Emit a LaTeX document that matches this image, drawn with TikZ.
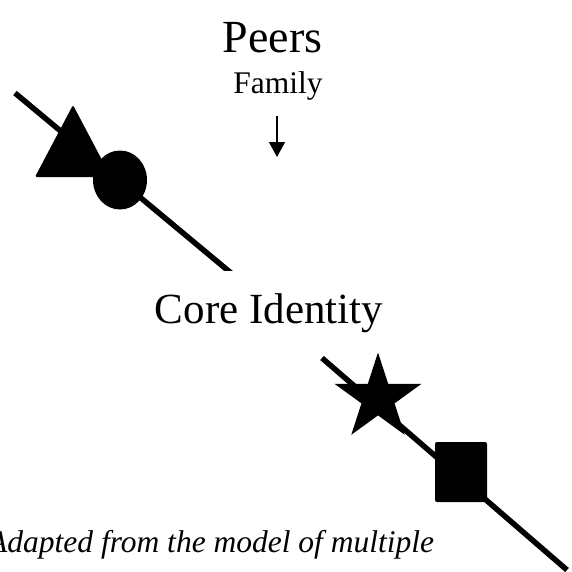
\documentclass[tikz,border=0pt]{standalone}
\usepackage{fontspec}
\setmainfont{Liberation Serif}
\usepackage{tikz}
\usetikzlibrary{arrows.meta}
\usetikzlibrary{shapes.geometric}
\tikzset{%
  myline/.style={line width=5.5pt},
  myarrow/.style={-{Triangle[length=15pt,width=16pt]}, line width=1.5pt},
  mymark/.style={fill=black, inner sep=0pt, outer sep=0pt},
  mytext/.style={anchor=base, inner sep=0pt}
}

\begin{document}
\begin{tikzpicture}[x=1pt,y=-1pt]
  \useasboundingbox (0,0) rectangle (572,571);
  \node[mytext, font=\fontsize{46}{55}\selectfont] (peers) at (272.5,52) {Peers};
  \node[mytext, font=\fontsize{31.5}{38}\selectfont] (family) at (278,93) {Family};
  \coordinate (a1) at (277,116);
  \coordinate (a2) at (277,157);
  \draw [myarrow] (a1) -- (a2);
  \node[mytext, font=\fontsize{43}{52}\selectfont] (core) at (269,323) {Core Identity};
  % first line, cut off flat at the bottom, triangle and circle on it
  \coordinate (l1) at (15,93);
  \coordinate (l2) at (231,273);
  \begin{scope}
    \clip (0,0) rectangle (572,270);
    \draw [myline] (l1) -- (l2);
  \end{scope}
  \fill [rounded corners=1.5pt] (73,105) -- (35,177) -- (111,177) -- cycle;
  \node[mymark, ellipse, minimum width=54pt, minimum height=59pt] (circ) at (120,180) {};
  % second line, star and square on it
  \coordinate (m1) at (322,358);
  \coordinate (m2) at (567,570);
  \draw [myline] (m1) -- (m2);
  \node[mymark, star, star points=5, star point ratio=2.618, minimum size=91pt] (star) at (378,398) {};
  \node[mymark, rectangle, rounded corners=2pt, minimum width=52pt, minimum height=60pt] (sq) at (461,472) {};
  \node[anchor=base west, inner sep=0pt, font=\fontsize{31.5}{38}\selectfont\itshape] (caption) at (-12,552) {Adapted from the model of multiple};
\end{tikzpicture}
\end{document}
